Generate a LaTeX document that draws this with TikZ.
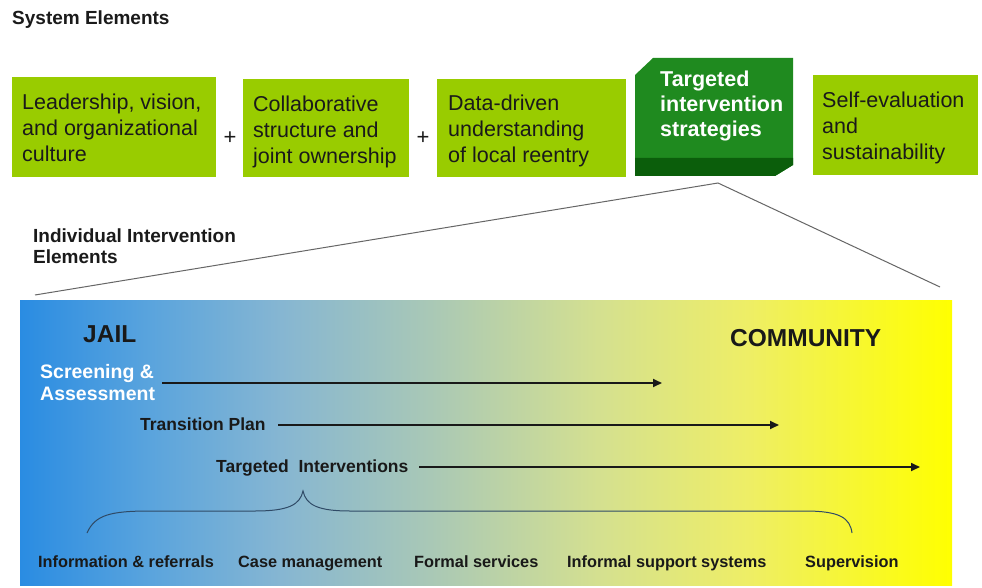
\documentclass[tikz,border=0pt]{standalone}
\usepackage{fontspec}
\setmainfont{Liberation Sans}
\usetikzlibrary{arrows.meta}
\definecolor{lgreen}{HTML}{99CC00}
\definecolor{dgreen}{HTML}{1F8A1F}
\definecolor{dgreenb}{HTML}{0B5E0B}
\definecolor{txtdark}{HTML}{1A1A1A}
\definecolor{bracec}{HTML}{2F4A66}
\definecolor{jb}{HTML}{2A8CE2}
\definecolor{ca}{HTML}{5AA4DD}
\definecolor{cb}{HTML}{86B6D2}
\definecolor{cc}{HTML}{A9C8B6}
\definecolor{cd}{HTML}{D4E090}
\definecolor{ce}{HTML}{EEEE66}
\definecolor{jy}{HTML}{FFFF00}
\pgfdeclarehorizontalshading{jailcom}{100bp}{color(0bp)=(jb); color(25bp)=(jb); color(32bp)=(ca); color(39bp)=(cb); color(47bp)=(cc); color(56bp)=(cd); color(64bp)=(ce); color(75bp)=(jy); color(100bp)=(jy)}
\tikzset{
  gbox/.style={fill=lgreen, draw=none, anchor=north west, inner sep=0, outer sep=0},
  boxtxt/.style={anchor=base west, inner sep=0, text=txtdark, font=\fontsize{21.5}{26}\selectfont},
  wboxtxt/.style={anchor=base west, inner sep=0, text=white, font=\bfseries\fontsize{21.5}{25}\selectfont},
  plus/.style={inner sep=0, text=txtdark, font=\fontsize{22}{26}\selectfont},
  headtxt/.style={anchor=base west, inner sep=0, text=txtdark, font=\bfseries\fontsize{19}{21}\selectfont},
  bigtxt/.style={anchor=base west, inner sep=0, text=black!90, font=\bfseries\fontsize{24.5}{28}\selectfont},
  midtxt/.style={anchor=base west, inner sep=0, text=black!90, font=\bfseries\fontsize{17.5}{21}\selectfont},
  lowtxt/.style={anchor=base west, inner sep=0, text=black!90, font=\bfseries\fontsize{16.3}{19}\selectfont},
  flow/.style={line width=1.7pt, draw=black!90, -{Triangle[length=9pt,width=8pt]}},
  zoomline/.style={line width=1pt, draw=black!60},
}
\begin{document}
\begin{tikzpicture}[x=1pt,y=-1pt]
\useasboundingbox (0,0) rectangle (982,588);
\fill[white] (0,0) rectangle (982,588);

% title
\node[headtxt] (title) at (12,25) {System Elements};

% system element boxes
\node[gbox, minimum width=204pt, minimum height=100pt] (b1) at (12,77) {};
\node[gbox, minimum width=166pt, minimum height=98pt] (b2) at (243,79) {};
\node[gbox, minimum width=189pt, minimum height=98pt] (b3) at (437,79) {};
\node[gbox, minimum width=165pt, minimum height=100pt] (b5) at (813,75) {};

% beveled dark box
\fill[dgreen] (635,75) -- (653,58) -- (793,58) -- (793,165) -- (775,176) -- (635,176) -- cycle;
\fill[dgreenb] (635,158) -- (793,158) -- (793,165) -- (775,176) -- (635,176) -- cycle;
\node[inner sep=0, outer sep=0, minimum width=158pt, minimum height=118pt, anchor=north west] (b4) at (635,58) {};

\node[boxtxt] (t1) at (22,110) {\vtop{\hbox{Leadership, vision,}\hbox{and organizational}\hbox{culture}}};
\node[boxtxt] (t2) at (253,112) {\vtop{\hbox{Collaborative}\hbox{structure and}\hbox{joint ownership}}};
\node[boxtxt] (t3) at (448,111) {\vtop{\hbox{Data-driven}\hbox{understanding}\hbox{of local reentry}}};
\node[wboxtxt] (t4) at (660,87) {\vtop{\hbox{Targeted}\hbox{intervention}\hbox{strategies}}};
\node[boxtxt] (t5) at (822,108) {\vtop{\hbox{Self-evaluation}\hbox{and}\hbox{sustainability}}};

\node[plus] (p1) at (230,138) {+};
\node[plus] (p2) at (423,138) {+};

% individual elements heading
\node[headtxt] (ind) at (33,242) {\vtop{\hbox{Individual Intervention}\hbox{Elements}}};

% gradient panel
\shade[shading=jailcom] (20,300) rectangle (952,585);
\node[inner sep=0, outer sep=0, minimum width=932pt, minimum height=285pt, anchor=north west] (panel) at (20,300) {};

% zoom lines
\coordinate (apex) at (718,183);
\coordinate (zl) at (35,295);
\coordinate (zr) at (940,287);
\draw[zoomline] (zl) -- (apex) -- (zr);

% panel texts
\node[bigtxt] (jail) at (83,342) {JAIL};
\node[bigtxt] (comm) at (730,346) {COMMUNITY};
\node[anchor=base west, inner sep=0, text=white, font=\bfseries\fontsize{19.5}{22}\selectfont] (screen) at (40,378) {\vtop{\hbox{Screening \&}\hbox{Assessment}}};
\node[midtxt] (trans) at (140,430) {Transition Plan};
\node[midtxt] (targ) at (216,472) {Targeted\ \ Interventions};

\coordinate (s0) at (162,383);
\coordinate (s1) at (662,383);
\coordinate (r0) at (278,425);
\coordinate (r1) at (779,425);
\coordinate (g0) at (419,467);
\coordinate (g1) at (920,467);
\draw[flow] (s0) -- (s1);
\draw[flow] (r0) -- (r1);
\draw[flow] (g0) -- (g1);

% brace
\draw[bracec, line width=1pt] (87,533) .. controls (95,515) and (110,511) .. (150,511) -- (255,511) .. controls (288,511) and (300,505) .. (303,491) .. controls (306,505) and (318,511) .. (350,511) -- (805,511) .. controls (840,511) and (850,518) .. (852,533);

% bottom labels
\node[lowtxt] (l1) at (38,567) {Information \& referrals};
\node[lowtxt] (l2) at (238,567) {Case management};
\node[lowtxt] (l3) at (414,567) {Formal services};
\node[lowtxt] (l4) at (567,567) {Informal support systems};
\node[lowtxt] (l5) at (805,567) {Supervision};
\end{tikzpicture}
\end{document}
